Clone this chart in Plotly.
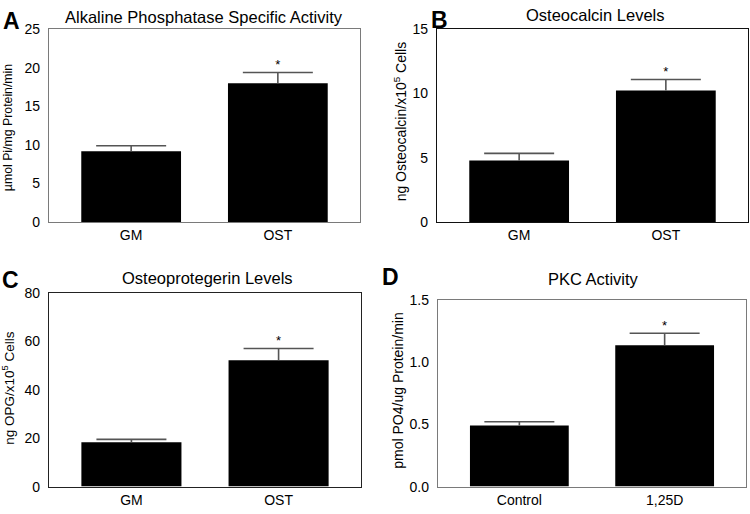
import plotly.graph_objects as go

# ---- data ----
cats_ab = ["GM", "OST"]
cats_d = ["Control", "1,25D"]

alp_mean = [9.2, 18.0]
alp_err = [0.7, 1.4]

ocn_mean = [4.8, 10.25]
ocn_err = [0.55, 0.85]

opg_mean = [18.3, 52.2]
opg_err = [1.2, 4.8]

pkc_mean = [0.49, 1.135]
pkc_err = [0.03, 0.095]

sig = ["", "*"]

panels = [
    dict(letter="A", title="Alkaline Phosphatase Specific Activity",
         ytitle="µmol Pi/mg Protein/min", yts=12.3, cats=cats_ab, mean=alp_mean, err=alp_err,
         yrange=[0, 25], dtick=5, fmt="", xd=[49, 360], yd=[22, 221], frame="#7a7a7a",
         letter_xy=(11, 13), title_xy=(204, 9), ytitle_xy=(8, 123)),
    dict(letter="B", title="Osteocalcin Levels",
         ytitle="ng Osteocalcin/x10<sup>5</sup> Cells", yts=14, cats=cats_ab, mean=ocn_mean, err=ocn_err,
         yrange=[0, 15], dtick=5, fmt="", xd=[437, 748], yd=[22, 221], frame="#111111",
         letter_xy=(439, 12), title_xy=(595, 7), ytitle_xy=(400, 117)),
    dict(letter="C", title="Osteoprotegerin Levels",
         ytitle="ng OPG/x10<sup>5</sup> Cells", yts=13.5, cats=cats_ab, mean=opg_mean, err=opg_err,
         yrange=[0, 80], dtick=20, fmt="", xd=[49, 361], yd=[294, 494], frame="#222222",
         letter_xy=(10, 281), title_xy=(207, 279), ytitle_xy=(8, 392)),
    dict(letter="D", title="PKC Activity",
         ytitle="pmol PO4/ug Protein/min", yts=14, cats=cats_d, mean=pkc_mean, err=pkc_err,
         yrange=[0, 1.5], dtick=0.5, fmt=".1f", xd=[438, 746], yd=[301, 494], frame="#7a7a7a",
         letter_xy=(390, 278), title_xy=(593, 280), ytitle_xy=(398, 395)),
]

W, H = 750, 514
FONT = "Liberation Sans, Arial, sans-serif"
ERRC = "#555555"

fig = go.Figure()
annotations = []
for i, p in enumerate(panels, start=1):
    xa = "x" if i == 1 else f"x{i}"
    ya = "y" if i == 1 else f"y{i}"
    fig.add_trace(go.Bar(
        x=p["cats"], y=p["mean"], xaxis=xa, yaxis=ya, width=0.68,
        marker=dict(color="black", line=dict(width=0)),
        showlegend=False,
    ))
    tops = [m + e for m, e in zip(p["mean"], p["err"])]
    # vertical error stems (from bar top upwards)
    sx, sy = [], []
    for c, m, t in zip(p["cats"], p["mean"], tops):
        sx += [c, c, None]
        sy += [m, t, None]
    fig.add_trace(go.Scatter(
        x=sx, y=sy, xaxis=xa, yaxis=ya, mode="lines",
        line=dict(color=ERRC, width=1.6), showlegend=False, hoverinfo="skip",
    ))
    # caps
    fig.add_trace(go.Scatter(
        x=p["cats"], y=tops, xaxis=xa, yaxis=ya, mode="markers",
        marker=dict(symbol="line-ew", size=50, line=dict(color=ERRC, width=1.6)),
        showlegend=False, hoverinfo="skip",
    ))
    # significance marks (only where present)
    sel = [k for k, s in enumerate(sig) if s]
    fig.add_trace(go.Scatter(
        x=[p["cats"][k] for k in sel], y=[tops[k] for k in sel],
        xaxis=xa, yaxis=ya, mode="text", text=[sig[k] for k in sel],
        textposition="top center", textfont=dict(size=13, color="black", family=FONT),
        showlegend=False, hoverinfo="skip", cliponaxis=False,
    ))
    xkey = "xaxis" if i == 1 else f"xaxis{i}"
    ykey = "yaxis" if i == 1 else f"yaxis{i}"
    fig.update_layout(**{
        xkey: dict(domain=[p["xd"][0] / W, p["xd"][1] / W], anchor=ya,
                   range=[-0.56, 1.56], showgrid=False, zeroline=False, ticks="",
                   showline=True, linecolor=p["frame"], linewidth=1.3, mirror=True,
                   tickfont=dict(size=14, color="black", family=FONT), fixedrange=True),
        ykey: dict(domain=[1 - p["yd"][1] / H, 1 - p["yd"][0] / H], anchor=xa,
                   range=p["yrange"], dtick=p["dtick"], tickformat=p["fmt"],
                   showgrid=False, zeroline=False, ticks="", ticklabelstandoff=5,
                   showline=True, linecolor=p["frame"], linewidth=1.3, mirror=True,
                   tickfont=dict(size=14, color="black", family=FONT), fixedrange=True),
    })
    lx, ly = p["letter_xy"]
    annotations.append(dict(text=f"<b>{p['letter']}</b>", x=lx / W, y=1 - ly / H,
                            xref="paper", yref="paper", showarrow=False,
                            xanchor="center", yanchor="middle",
                            font=dict(size=23, color="black", family=FONT)))
    tx, ty = p["title_xy"]
    annotations.append(dict(text=p["title"], x=tx / W, y=1 - ty / H,
                            xref="paper", yref="paper", showarrow=False,
                            xanchor="center", yanchor="middle",
                            font=dict(size=16.5, color="black", family=FONT)))
    yx, yy = p["ytitle_xy"]
    annotations.append(dict(text=p["ytitle"], x=yx / W, y=1 - yy / H,
                            xref="paper", yref="paper", showarrow=False,
                            textangle=-90, xanchor="center", yanchor="middle",
                            font=dict(size=p["yts"], color="black", family=FONT)))

fig.update_layout(
    width=W, height=H, margin=dict(l=0, r=0, t=0, b=0),
    paper_bgcolor="white", plot_bgcolor="white",
    annotations=annotations, bargap=0.3,
    font=dict(family=FONT, color="black"),
)

fig.write_html("out.html", config={"displayModeBar": False},
               post_script="document.body.style.margin='0';")
